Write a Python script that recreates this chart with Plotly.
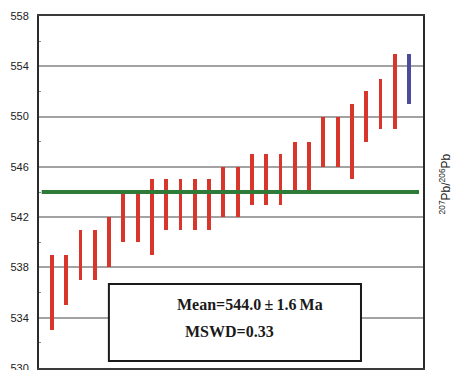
import plotly.graph_objects as go

# Analyses (age ranges, Ma)
analysis = list(range(1, 27))
age_low = [533, 535, 537, 537, 538, 540, 540, 539, 541, 541, 541, 541, 542,
           542, 543, 543, 543, 544, 544, 546, 546, 545, 548, 549, 549, 551]
age_high = [539, 539, 541, 541, 542, 544, 544, 545, 545, 545, 545, 545, 546,
            546, 547, 547, 547, 548, 548, 550, 550, 551, 552, 553, 555, 555]
rejected = [False] * 25 + [True]

mean_age = 544.0
mean_err = 1.6
mswd = 0.33

y_ticks = [530, 534, 538, 542, 546, 550, 554, 558]

RED = "#d8352b"
BLUE = "#4c4c9c"

fig = go.Figure()

for flag, col in [(False, RED), (True, BLUE)]:
    xs = [a for a, r in zip(analysis, rejected) if r == flag]
    base = [lo for lo, r in zip(age_low, rejected) if r == flag]
    h = [hi - lo for lo, hi, r in zip(age_low, age_high, rejected) if r == flag]
    fig.add_trace(go.Bar(x=xs, y=h, base=base, width=0.27,
                         marker=dict(color=col, line=dict(width=0)),
                         showlegend=False))

fig.add_trace(go.Scatter(x=[0.28, 26.7], y=[mean_age, mean_age], mode="lines",
                         line=dict(color="#2e7a38", width=4), showlegend=False))

fig.add_shape(type="rect", xref="paper", yref="paper",
              x0=0.182, x1=0.8385, y0=0.02, y1=0.2386,
              fillcolor="white", line=dict(color="#1a1a1a", width=2),
              layer="above")

fig.add_annotation(xref="paper", yref="paper", x=0.3542, y=0.1818,
                   xanchor="left", yanchor="middle", showarrow=False,
                   text=f"<b>Mean={mean_age:.1f}\u2009\u00b1\u2009{mean_err}\u2009Ma</b>",
                   font=dict(family="Liberation Serif", size=16, color="#1a1a1a"))
fig.add_annotation(xref="paper", yref="paper", x=0.375, y=0.1023,
                   xanchor="left", yanchor="middle", showarrow=False,
                   text=f"<b>MSWD={mswd:.2f}</b>",
                   font=dict(family="Liberation Serif", size=16, color="#1a1a1a"))

fig.add_annotation(xref="paper", yref="paper", x=1.057, y=0.524,
                   xanchor="center", yanchor="middle", showarrow=False,
                   textangle=-90,
                   text="<sup>207</sup>Pb/<sup>206</sup>Pb",
                   font=dict(family="Liberation Sans", size=12, color="#222"))

fig.update_layout(
    width=453, height=370,
    margin=dict(l=39, r=30, t=16, b=2, autoexpand=False),
    plot_bgcolor="white", paper_bgcolor="white",
    bargap=0,
    xaxis=dict(range=[0.09, 26.98], showticklabels=False, ticks="",
               showgrid=False, zeroline=False, automargin=False,
               showline=True, linecolor="#3a3a3a", linewidth=2, mirror=True),
    yaxis=dict(range=[530, 558], tickvals=y_ticks, ticks="",
               ticklabelstandoff=6, ticklabeloverflow="allow",
               automargin=False,
               showgrid=True, gridcolor="#a3a3a3", gridwidth=2,
               zeroline=False,
               showline=True, linecolor="#2a2a2a", linewidth=2, mirror=True,
               tickfont=dict(family="Liberation Sans", size=11, color="#222"),
               minor=dict(tickvals=[532, 536, 540, 544, 548, 552, 556],
                          ticks="inside", ticklen=2, tickcolor="#888",
                          showgrid=False)),
)

fig.write_html("out.html")
